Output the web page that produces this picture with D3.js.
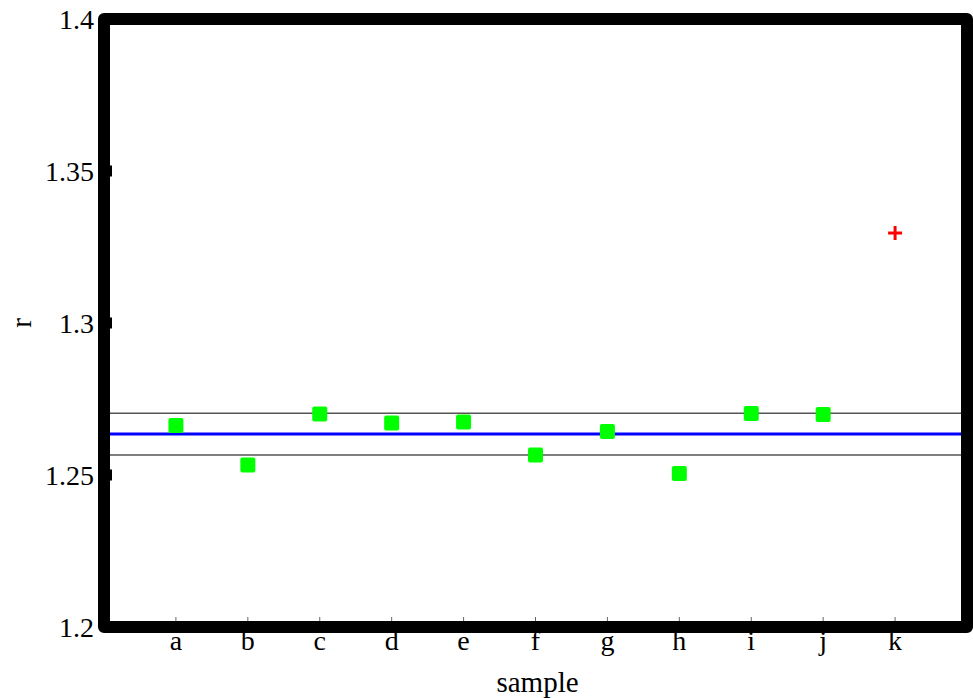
<!DOCTYPE html>
<html>
<head>
<meta charset="utf-8">
<script src="https://cdn.jsdelivr.net/npm/d3@7"></script>
<style>
  html, body { margin: 0; padding: 0; background: #fff; }
  svg { display: block; }
  text { font-family: "Liberation Serif", "DejaVu Serif", serif; fill: #000; }
</style>
</head>
<body>
<svg id="chart" width="973" height="698"></svg>
<script>
// Sample measurements of r
const samples = ["a", "b", "c", "d", "e", "f", "g", "h", "i", "j"];
const rValues = [1.2663, 1.2533, 1.2701, 1.2671, 1.2674, 1.2566, 1.2643, 1.2505, 1.2702, 1.2699];
// Outlier sample, drawn separately
const outlierLabel = "k";
const outlierValue = 1.3296;
// Reference lines: mean and the band around it
const meanValue = 1.2635;
const bandUpper = 1.2703;
const bandLower = 1.2566;
const yTicks = [1.2, 1.25, 1.3, 1.35, 1.4];
const categories = samples.concat([outlierLabel]);

const svg = d3.select("#chart");
const plotLeft = 104, plotRight = 967, plotTop = 19, plotBottom = 627;

const x = d3.scaleLinear().domain([0, categories.length + 1]).range([plotLeft, plotRight]);
const y = d3.scaleLinear().domain([1.2, 1.4]).range([plotBottom, plotTop]);

// Reference lines
const refs = [
  { v: bandUpper, color: "#555", w: 1.5 },
  { v: bandLower, color: "#555", w: 1.5 },
  { v: meanValue, color: "#0000ff", w: 3 }
];
svg.selectAll("line.ref").data(refs).enter().append("line")
  .attr("class", "ref")
  .attr("x1", plotLeft).attr("x2", plotRight)
  .attr("y1", d => y(d.v)).attr("y2", d => y(d.v))
  .attr("stroke", d => d.color).attr("stroke-width", d => d.w);

// Points
const sq = 15;
svg.selectAll("rect.pt").data(samples).enter().append("rect")
  .attr("class", "pt")
  .attr("x", (d, i) => x(i + 1) - sq / 2)
  .attr("y", (d, i) => y(rValues[i]) - sq / 2)
  .attr("width", sq).attr("height", sq)
  .attr("rx", 2).attr("ry", 2)
  .attr("fill", "#00ff00");

// Outlier marker
const ox = x(categories.length), oy = y(outlierValue), arm = 7;
const plus = svg.append("g").attr("stroke", "#ff0000").attr("stroke-width", 3);
plus.append("line").attr("x1", ox - arm).attr("x2", ox + arm).attr("y1", oy).attr("y2", oy);
plus.append("line").attr("x1", ox).attr("x2", ox).attr("y1", oy - arm).attr("y2", oy + arm);

// X ticks (small, inside the frame)
svg.selectAll("line.xt").data(categories).enter().append("line")
  .attr("class", "xt")
  .attr("x1", (d, i) => x(i + 1)).attr("x2", (d, i) => x(i + 1))
  .attr("y1", plotBottom - 10).attr("y2", plotBottom)
  .attr("stroke", "#666").attr("stroke-width", 1);

// Frame
svg.append("rect")
  .attr("x", plotLeft).attr("y", plotTop)
  .attr("width", plotRight - plotLeft).attr("height", plotBottom - plotTop)
  .attr("fill", "none").attr("stroke", "#000").attr("stroke-width", 12)
  .attr("stroke-linejoin", "round");

// Y ticks
svg.selectAll("line.yt").data(yTicks.slice(1, -1)).enter().append("line")
  .attr("class", "yt")
  .attr("x1", plotLeft).attr("x2", plotLeft + 8)
  .attr("y1", d => y(d)).attr("y2", d => y(d))
  .attr("stroke", "#000").attr("stroke-width", 11);

// Y tick labels
svg.selectAll("text.yl").data(yTicks).enter().append("text")
  .attr("class", "yl")
  .attr("x", plotLeft - 10).attr("y", d => y(d))
  .attr("dy", "0.35em")
  .attr("text-anchor", "end")
  .attr("font-size", 28)
  .text(d => d3.format("")(d));

// X tick labels
svg.selectAll("text.xl").data(categories).enter().append("text")
  .attr("class", "xl")
  .attr("x", (d, i) => x(i + 1)).attr("y", 650)
  .attr("text-anchor", "middle")
  .attr("font-size", 28)
  .text(d => d);

// Axis titles
svg.append("text")
  .attr("x", (plotLeft + plotRight) / 2 + 2).attr("y", 692)
  .attr("text-anchor", "middle")
  .attr("font-size", 29)
  .text("sample");

svg.append("text")
  .attr("transform", `translate(31, ${(plotTop + plotBottom) / 2}) rotate(-90)`)
  .attr("text-anchor", "middle")
  .attr("font-size", 29)
  .text("r");
</script>
</body>
</html>
